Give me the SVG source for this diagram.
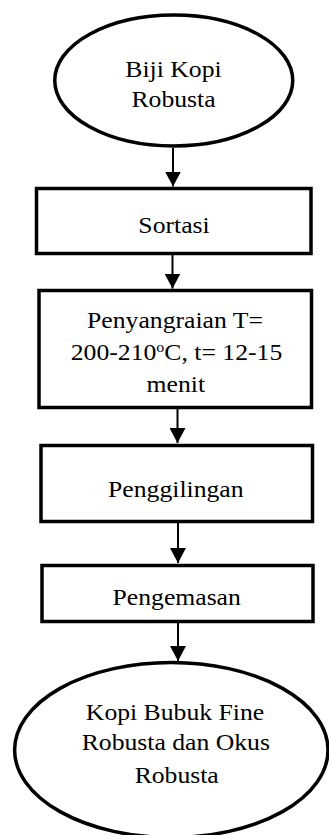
<svg xmlns="http://www.w3.org/2000/svg" width="329" height="835" viewBox="0 0 329 835">
<style>
.shape{fill:#fff;stroke:#000;stroke-width:3.5}
.lbl{font-size:24px;fill:#000;text-anchor:middle}
.edge{stroke:#000;stroke-width:2;fill:none}
</style>
<defs>
<marker id="ah" markerUnits="userSpaceOnUse" markerWidth="15" markerHeight="16" viewBox="0 0 15 16" refX="15" refY="8" orient="auto">
<path d="M0,0 L15,8 L0,16 z" fill="#000"/>
</marker>
</defs>
<rect width="329" height="835" fill="#fff"/>
<g id="edges">
<line class="edge" x1="173" y1="148" x2="173" y2="186.5" marker-end="url(#ah)"/>
<line class="edge" x1="172.5" y1="255" x2="172.5" y2="288.5" marker-end="url(#ah)"/>
<line class="edge" x1="177.5" y1="409" x2="177.5" y2="443" marker-end="url(#ah)"/>
<line class="edge" x1="178" y1="523" x2="178" y2="563" marker-end="url(#ah)"/>
<line class="edge" x1="178" y1="623" x2="178" y2="661" marker-end="url(#ah)"/>
</g>
<g font-family="Liberation Serif, Times New Roman, serif">
<g id="start">
<ellipse class="shape" cx="173.75" cy="80.5" rx="119" ry="65.5"/>
<g transform="translate(173.5,77) scale(1.07,1)"><text class="lbl" x="0" y="0">Biji Kopi</text></g>
<g transform="translate(173.5,107) scale(1.07,1)"><text class="lbl" x="0" y="0">Robusta</text></g>
</g>
<g id="sortasi">
<rect class="shape" x="36.5" y="188.5" width="274.5" height="65"/>
<g transform="translate(174,233) scale(1.07,1)"><text class="lbl" x="0" y="0">Sortasi</text></g>
</g>
<g id="penyangraian">
<rect class="shape" x="39" y="290.5" width="272.5" height="117"/>
<g transform="translate(175,328) scale(1.07,1)"><text class="lbl" x="0" y="0">Penyangraian T=</text></g>
<g transform="translate(176.5,360) scale(1.07,1)"><text class="lbl" x="0" y="0">200-210<tspan font-size="15" dy="-8">o</tspan><tspan dy="8">C, t= 12-15</tspan></text></g>
<g transform="translate(175.8,392) scale(1.07,1)"><text class="lbl" x="0" y="0">menit</text></g>
</g>
<g id="penggilingan">
<rect class="shape" x="41" y="445.5" width="271.5" height="76"/>
<g transform="translate(175.8,497) scale(1.07,1)"><text class="lbl" x="0" y="0">Penggilingan</text></g>
</g>
<g id="pengemasan">
<rect class="shape" x="42" y="565.5" width="271" height="56"/>
<g transform="translate(176.7,605) scale(1.07,1)"><text class="lbl" x="0" y="0">Pengemasan</text></g>
</g>
<g id="end">
<ellipse class="shape" cx="171.3" cy="750" rx="156.7" ry="87.5"/>
<g transform="translate(175,720) scale(1.07,1)"><text class="lbl" x="0" y="0">Kopi Bubuk Fine</text></g>
<g transform="translate(175.8,750) scale(1.07,1)"><text class="lbl" x="0" y="0">Robusta dan Okus</text></g>
<g transform="translate(176.7,783) scale(1.07,1)"><text class="lbl" x="0" y="0">Robusta</text></g>
</g>
</g>
</svg>
